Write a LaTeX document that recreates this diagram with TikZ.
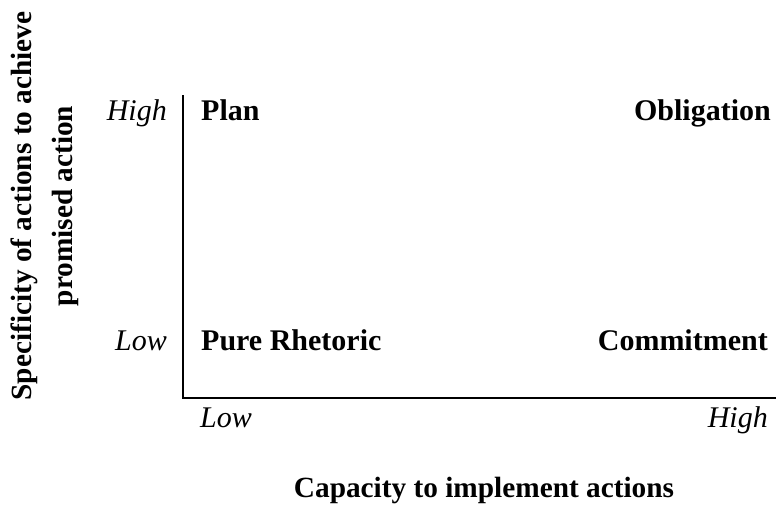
\documentclass[tikz,border=0pt]{standalone}
\usepackage{fontspec}
\setmainfont{Liberation Serif}

\begin{document}
\begin{tikzpicture}[x=1pt,y=-1pt,
  every node/.style={inner sep=0pt,font=\fontsize{30}{41}\selectfont},
  quad/.style={font=\fontsize{30}{41}\selectfont\bfseries},
  title/.style={font=\fontsize{29.3}{41}\selectfont\bfseries},
  level/.style={font=\fontsize{30}{41}\selectfont\itshape}]

  \useasboundingbox (0,0) rectangle (776,506);

  \coordinate (top) at (183,95);
  \coordinate (origin) at (183,398);
  \coordinate (right) at (776,398);

  \node[quad,anchor=base west] (plan) at (201,120) {Plan};
  \node[quad,anchor=base east] (obl) at (771,120) {Obligation};
  \node[quad,anchor=base west] (rhet) at (201,350) {Pure Rhetoric};
  \node[quad,anchor=base east] (comm) at (768,350) {Commitment};

  \node[level,anchor=base east] (yhigh) at (167,120) {High};
  \node[level,anchor=base east] (ylow) at (167,350) {Low};
  \node[level,anchor=base west] (xlow) at (200,427) {Low};
  \node[level,anchor=base east] (xhigh) at (768,427) {High};

  \node[title,anchor=base] (xtitle) at (484,497) {Capacity to implement actions};
  \node[title,align=center,rotate=90] (ytitle) at (45,206)
    {Specificity of actions to achieve\\promised action};

  \draw [line width=2pt] (top) -- (origin) -- (right);

\end{tikzpicture}
\end{document}
